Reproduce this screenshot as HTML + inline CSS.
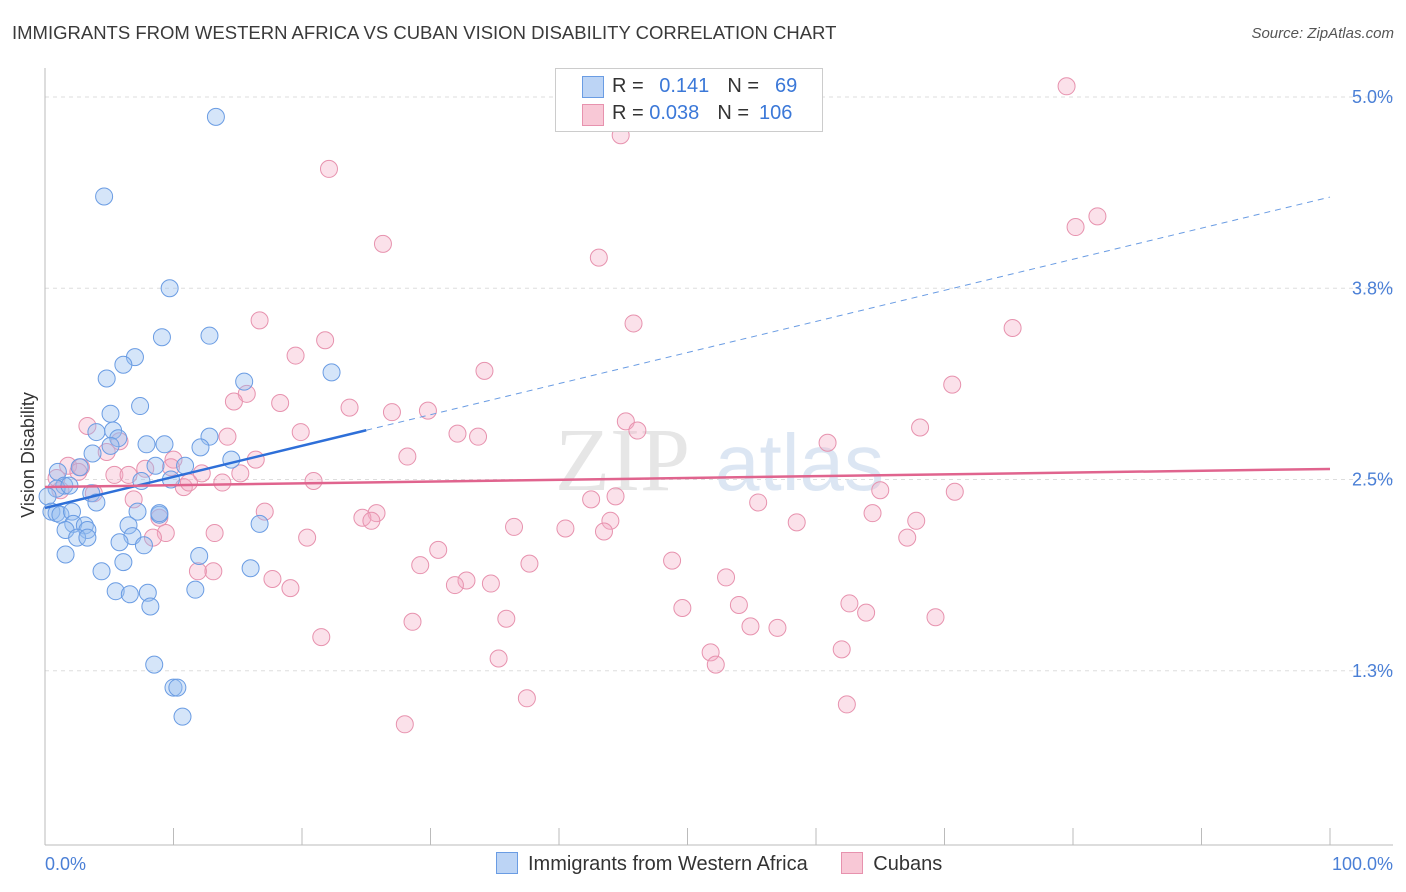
<!DOCTYPE html>
<html><head><meta charset="utf-8"><style>
body{margin:0;background:#fff;font-family:"Liberation Sans",sans-serif;}
#wrap{position:relative;width:1406px;height:892px;overflow:hidden}
.t{position:absolute;white-space:nowrap}
</style></head><body><div id="wrap">
<div class="t" style="left:12px;top:22px;font-size:18.5px;color:#3a3a3a">IMMIGRANTS FROM WESTERN AFRICA VS CUBAN VISION DISABILITY CORRELATION CHART</div>
<div class="t" style="right:12px;top:25px;font-size:15px;color:#555;font-style:italic">Source: ZipAtlas.com</div>
<svg id="svg" width="1406" height="892" style="position:absolute;left:0;top:0"></svg>
</div>
<script>
const yTicks=[5.0,3.75,2.5,1.25];
const yTickLabels=["5.0%","3.8%","2.5%","1.3%"];
const xTickLabels=["0.0%","100.0%"];
const blueX=[13.3,4.6,9.7,9.1,12.8,7.0,6.1,4.8,15.5,22.3,7.4,5.1,4.0,5.3,5.7,12.8,7.9,9.3,5.1,3.7,12.1,14.5,8.6,10.9,1.0,2.7,9.8,7.5,1.5,0.9,1.9,0.2,3.6,4.0,0.5,0.9,1.2,2.1,7.2,8.9,2.2,3.1,6.5,16.7,1.6,3.3,2.5,3.3,6.8,5.8,7.7,1.6,12.0,6.1,4.4,16.0,5.5,8.0,6.6,11.7,8.2,8.5,10.0,10.3,10.7,8.9];
const blueY=[4.87,4.35,3.75,3.43,3.44,3.30,3.25,3.16,3.14,3.20,2.98,2.93,2.81,2.82,2.77,2.78,2.73,2.73,2.72,2.67,2.71,2.63,2.59,2.59,2.55,2.58,2.50,2.49,2.46,2.44,2.46,2.39,2.41,2.35,2.29,2.28,2.27,2.29,2.29,2.27,2.21,2.20,2.20,2.21,2.17,2.17,2.12,2.12,2.13,2.09,2.07,2.01,2.00,1.96,1.90,1.92,1.77,1.76,1.75,1.78,1.67,1.29,1.14,1.14,0.95,2.28];
const pinkX=[79.5,44.8,22.1,81.9,80.2,26.3,43.1,16.7,45.8,75.3,21.8,19.5,34.2,70.6,15.7,14.7,18.3,23.7,27.0,29.8,3.3,19.9,45.2,46.1,32.1,33.7,68.1,60.9,14.2,5.8,4.8,16.4,28.2,1.8,10.0,2.8,2.6,5.4,6.5,7.8,9.8,12.2,15.2,20.9,0.9,1.2,13.8,10.8,11.2,3.8,6.9,65.0,70.8,44.4,42.5,55.5,17.1,25.8,24.7,25.4,8.9,64.4,44.0,36.5,40.5,43.5,58.5,67.8,9.4,13.2,20.4,8.4,67.1,30.6,29.2,37.7,48.8,13.1,11.9,32.8,31.9,34.7,17.7,19.1,53.0,49.6,54.0,62.6,63.9,69.3,28.6,35.9,54.9,57.0,21.5,51.8,52.2,62.0,35.3,37.5,62.4,28.0];
const pinkY=[5.07,4.75,4.53,4.22,4.15,4.04,3.95,3.54,3.52,3.49,3.41,3.31,3.21,3.12,3.06,3.01,3.00,2.97,2.94,2.95,2.85,2.81,2.88,2.82,2.80,2.78,2.84,2.74,2.78,2.75,2.68,2.63,2.65,2.59,2.63,2.58,2.55,2.53,2.53,2.57,2.58,2.54,2.54,2.49,2.51,2.43,2.48,2.45,2.48,2.41,2.37,2.43,2.42,2.39,2.37,2.35,2.29,2.28,2.25,2.23,2.25,2.28,2.23,2.19,2.18,2.16,2.22,2.23,2.15,2.15,2.12,2.12,2.12,2.04,1.94,1.95,1.97,1.90,1.90,1.84,1.81,1.82,1.85,1.79,1.86,1.66,1.68,1.69,1.63,1.60,1.57,1.59,1.54,1.53,1.47,1.37,1.29,1.39,1.33,1.07,1.03,0.90];
const blueTrend=[2.314,4.346];
const pinkTrend=[2.451,2.569];
const blueSolidEnd=25;

const NS="http://www.w3.org/2000/svg";
const svg=document.getElementById('svg');
const X=v=>45+v*12.85;
const Y=v=>862-v*153;
function mk(tag,attrs,name){const e=document.createElementNS(NS,tag);for(const k in attrs)e.setAttribute(k,attrs[k]);


svg.appendChild(e);return e;}
yTicks.forEach((t,i)=>{
 mk('line',{x1:45,x2:1393,y1:Y(t),y2:Y(t),stroke:'#ddd','stroke-dasharray':'4,4'},'y-gridline');
 const tx=mk('text',{x:1393,y:Y(t)+6,'text-anchor':'end','font-size':18,fill:'#4a7fd6'},'y-tick-label');tx.textContent=yTickLabels[i];
});
mk('line',{x1:45,x2:45,y1:68,y2:845,stroke:'#bbb'},'y-axis');
mk('line',{x1:45,x2:1393,y1:845,y2:845,stroke:'#bbb'},'x-axis');
for(let i=0;i<=10;i++)mk('line',{x1:X(i*10),x2:X(i*10),y1:828,y2:845,stroke:'#bbb'},'x-tick');
let tl=mk('text',{x:45,y:870,'font-size':18,fill:'#4a7fd6'},'x-tick-label');tl.textContent=xTickLabels[0];
tl=mk('text',{x:1393,y:870,'text-anchor':'end','font-size':18,fill:'#4a7fd6'},'x-tick-label');tl.textContent=xTickLabels[1];
let yt=mk('text',{x:34,y:455,'font-size':18,fill:'#333',transform:'rotate(-90 34 455)','text-anchor':'middle'},'y-axis-title');yt.textContent='Vision Disability';
let wm=mk('text',{x:555,y:490,'font-size':90,fill:'#e6e6e6','font-family':'Liberation Serif'},'watermark');wm.textContent='ZIP';
let wm2=mk('text',{x:715,y:490,'font-size':80,fill:'#dce6f3'},'watermark');wm2.textContent='atlas';
pinkX.forEach((x,i)=>mk('circle',{cx:X(x),cy:Y(pinkY[i]),r:8.5,fill:'rgba(244,170,195,0.35)',stroke:'#e792ae','stroke-width':1},'cubans-point'));
blueX.forEach((x,i)=>mk('circle',{cx:X(x),cy:Y(blueY[i]),r:8.5,fill:'rgba(150,190,240,0.4)',stroke:'#6a9ce3','stroke-width':1},'western-africa-point'));
const by=x=>blueTrend[0]+(blueTrend[1]-blueTrend[0])*x/100;
mk('line',{x1:X(0),y1:Y(by(0)),x2:X(blueSolidEnd),y2:Y(by(blueSolidEnd)),stroke:'#2e6fd8','stroke-width':2.5},'western-africa-trendline');
mk('line',{x1:X(blueSolidEnd),y1:Y(by(blueSolidEnd)),x2:X(100),y2:Y(by(100)),stroke:'#6a9ce3','stroke-width':1,'stroke-dasharray':'6,5'},'western-africa-trendline-extension');
mk('line',{x1:X(0),y1:Y(pinkTrend[0]),x2:X(100),y2:Y(pinkTrend[1]),stroke:'#e0648e','stroke-width':2.5},'cubans-trendline');
</script>
<div class="t" style="left:555px;top:68px;width:266px;height:62px;border:1px solid #ccc;background:#fff;font-size:20px;color:#333">
 <div style="position:absolute;left:26px;top:7px;width:20px;height:20px;background:#bcd4f5;border:1px solid #6a9ce3"></div>
 <div style="position:absolute;left:56px;top:6px">R = <span style="color:#3b78d8;margin-left:10px">0.141</span><span style="margin-left:18px">N =</span><span style="color:#3b78d8;margin-left:16px">69</span></div>
 <div style="position:absolute;left:26px;top:35px;width:20px;height:20px;background:#f8c8d6;border:1px solid #e792ae"></div>
 <div style="position:absolute;left:56px;top:33px">R = <span style="color:#3b78d8">0.038</span><span style="margin-left:18px">N =</span><span style="color:#3b78d8;margin-left:10px">106</span></div>
</div>
<div class="t" style="left:496px;top:852px;font-size:20px;color:#333">
 <span style="display:inline-block;width:20px;height:20px;background:#bcd4f5;border:1px solid #6a9ce3;vertical-align:-4px"></span><span style="margin-left:10px">Immigrants from Western Africa</span>
 <span style="display:inline-block;width:20px;height:20px;background:#f8c8d6;border:1px solid #e792ae;vertical-align:-4px;margin-left:28px"></span><span style="margin-left:10px">Cubans</span>
</div>
</body></html>
